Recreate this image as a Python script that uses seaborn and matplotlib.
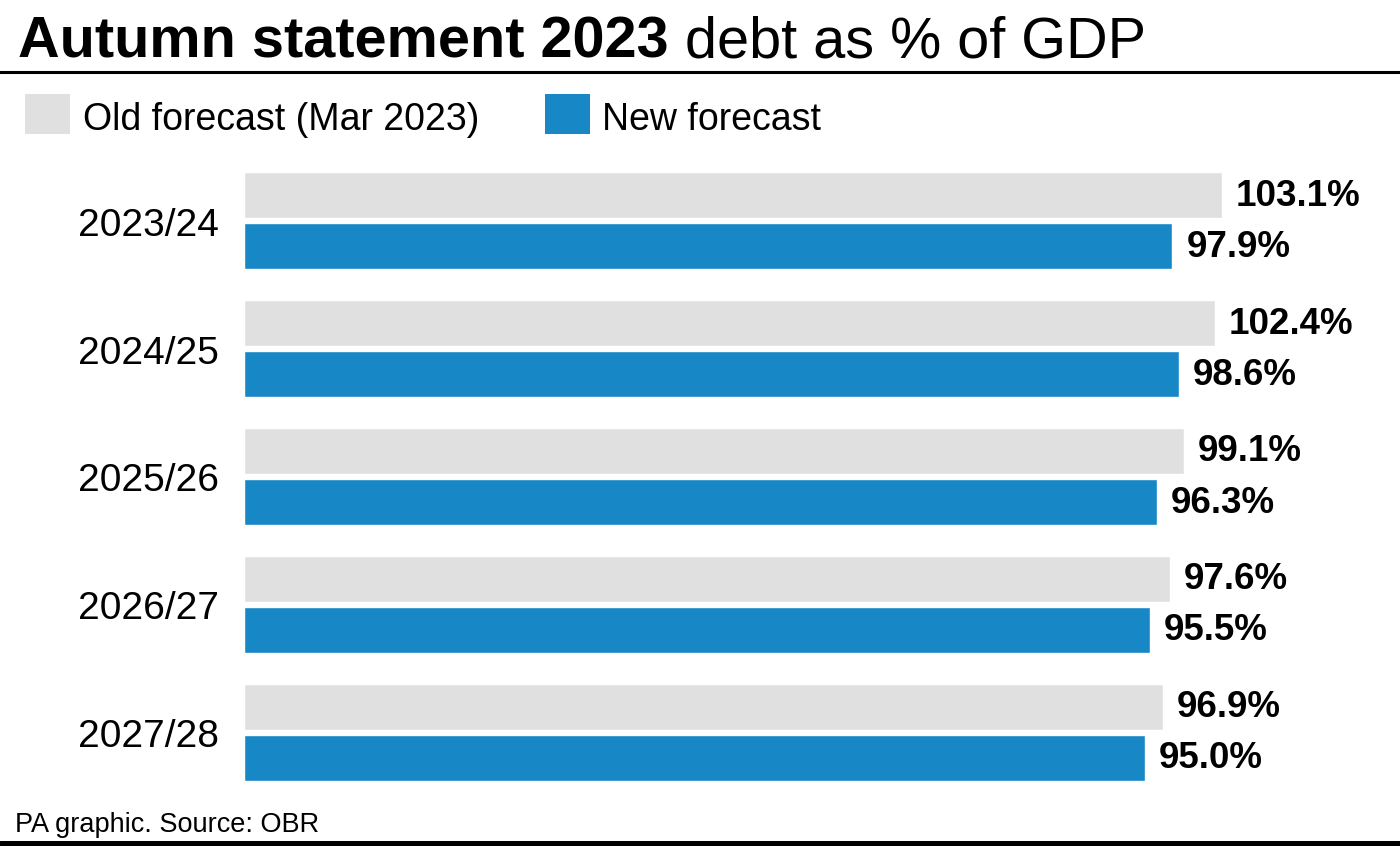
import matplotlib
matplotlib.use("Agg")
import matplotlib.pyplot as plt
from matplotlib.patches import Rectangle
from matplotlib.lines import Line2D
import seaborn as sns
import pandas as pd

# ---- data ----
years = ["2023/24", "2024/25", "2025/26", "2026/27", "2027/28"]
old_forecast = [103.1, 102.4, 99.1, 97.6, 96.9]
new_forecast = [97.9, 98.6, 96.3, 95.5, 95.0]
series_names = ["Old forecast (Mar 2023)", "New forecast"]

title_bold = "Autumn statement 2023"
title_regular = " debt as % of GDP"
footer = "PA graphic. Source: OBR"

GREY = "#E1E0E1"
BLUE = "#1787C6"

df = pd.DataFrame({
    "year": years * 2,
    "value": old_forecast + new_forecast,
    "series": [series_names[0]] * len(years) + [series_names[1]] * len(years),
})

sns.set_theme(style="white")
plt.rcParams["font.family"] = ["Liberation Sans", "DejaVu Sans"]

W, H = 1400, 854
fig = plt.figure(figsize=(W / 100, H / 100), dpi=100)
fig.patch.set_facecolor("white")

def fx(px):
    return px / W

def fy(py):
    return 1 - py / H

ax_left, ax_right, ax_top, ax_bottom = 244, 1382, 158, 797
ax = fig.add_axes([fx(ax_left), fy(ax_bottom), fx(ax_right - ax_left), (ax_bottom - ax_top) / H])

sns.barplot(data=df, y="year", x="value", hue="series", orient="h",
            palette=[GREY, BLUE], hue_order=series_names, order=years,
            width=0.8, gap=0.1, ax=ax, legend=False, saturation=1)

ax.set_xlim(0, 120)
ax.set_ylim(len(years) - 0.5, -0.5)
ax.set_xlabel("")
ax.set_ylabel("")
ax.set_xticks([])
for s in ax.spines.values():
    s.set_visible(False)
ax.tick_params(axis="y", length=0, pad=18, labelsize=28, labelcolor="black")
for lab in ax.get_yticklabels():
    lab.set_fontfamily(["Liberation Sans", "DejaVu Sans"])

for cont in ax.containers:
    ax.bar_label(cont, fmt="%.1f%%", padding=10, fontsize=26.5, fontweight="bold", color="black")

# ---- title ----
t1 = fig.text(fx(18), fy(57), title_bold, fontsize=41.5, fontweight="bold",
              ha="left", va="baseline", color="black")
fig.canvas.draw()
bb = t1.get_window_extent()
fig.text(bb.x1 / W, fy(57), title_regular, fontsize=41.5, ha="left",
         va="baseline", color="black")

# rules
fig.add_artist(Line2D([0, 1], [fy(73), fy(73)], transform=fig.transFigure,
                      color="black", linewidth=2.2))
fig.add_artist(Line2D([0, 1], [fy(844), fy(844)], transform=fig.transFigure,
                      color="black", linewidth=3.6))

# ---- legend ----
leg_items = [(25, GREY, series_names[0], 83), (545, BLUE, series_names[1], 602)]
for x0, col, name, tx in leg_items:
    fig.add_artist(Rectangle((fx(x0), fy(135)), fx(45), 40 / H,
                             transform=fig.transFigure, facecolor=col,
                             edgecolor="none"))
    fig.text(fx(tx), fy(130), name, fontsize=27, ha="left", va="baseline",
             color="black")

# ---- footer ----
fig.text(fx(15), fy(832), footer, fontsize=19.5, ha="left", va="baseline",
         color="black")

fig.savefig("out.png", dpi=100, facecolor="white")
